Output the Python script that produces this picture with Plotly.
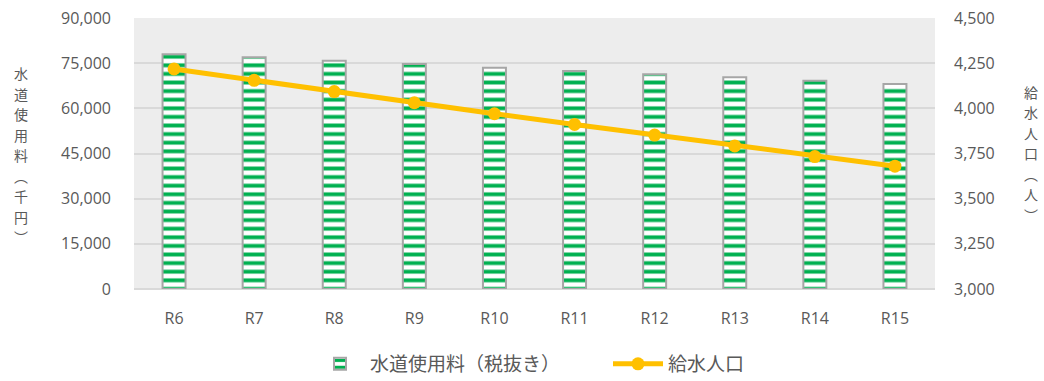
import plotly.graph_objects as go

# 年度別の見込み
years = ["R6", "R7", "R8", "R9", "R10", "R11", "R12", "R13", "R14", "R15"]
water_charges = [78000, 77000, 75800, 74700, 73500, 72400, 71300, 70300, 69200, 68100]  # 千円
served_population = [4218, 4155, 4093, 4031, 3970, 3911, 3852, 3792, 3733, 3680]  # 人

charges_name = "水道使用料（税抜き）"
population_name = "給水人口"
left_title_chars = ["水", "道", "使", "用", "料", "︵", "千", "円", "︶"]
right_title_chars = ["給", "水", "人", "口", "︵", "人", "︶"]

W, H = 1044, 381
L, R, T, B = 134, 109, 18, 92
PW, PH = W - L - R, H - T - B

JP = "Noto Sans CJK JP"
NUM = "Open Sans"
TXT = "#595959"

fig = go.Figure()

fig.add_trace(go.Bar(
    x=years, y=water_charges, name=charges_name, yaxis="y",
    marker=dict(
        color="white",
        line=dict(color="#A6A6A6", width=2),
        pattern=dict(shape="-", fgcolor="#00B050", bgcolor="white",
                     size=8.6, solidity=0.45, fillmode="replace"),
    ),
))

fig.add_trace(go.Scatter(
    x=years, y=served_population, name=population_name, yaxis="y2",
    mode="lines+markers",
    line=dict(color="#FFC000", width=5),
    marker=dict(color="#FFC000", size=13),
))


def px_x(px):
    return (px - L) / PW


def px_y(py):
    return (H - B - py) / PH


def stacked_title(chars, x_px, center_px, pitch=20.5, size=14):
    """縦書きタイトル：1文字ずつ上から積み上げる"""
    top = center_px - pitch * (len(chars) - 1) / 2
    return [
        dict(text=ch, x=px_x(x_px), y=px_y(top + i * pitch),
             xref="paper", yref="paper", showarrow=False,
             xanchor="center", yanchor="middle",
             font=dict(family=JP, size=size, color=TXT))
        for i, ch in enumerate(chars)
    ]


annotations = stacked_title(left_title_chars, 21, 155) + stacked_title(right_title_chars, 1031, 153)

fig.update_layout(
    width=W, height=H,
    margin=dict(l=L, r=R, t=T, b=B, pad=0, autoexpand=False),
    paper_bgcolor="white",
    plot_bgcolor="#EDEDED",
    bargap=0.713,
    showlegend=True,
    legend=dict(orientation="h",
                xref="container", x=310 / W, xanchor="left",
                yref="container", y=(H - 364) / H, yanchor="middle",
                font=dict(family=JP, size=19, color=TXT),
                itemwidth=50, entrywidth=233, traceorder="normal"),
    xaxis=dict(
        type="category", range=[-0.5, len(years) - 0.5],
        showgrid=False, showline=False, ticks="", automargin=False,
        tickfont=dict(family=NUM, size=16, color=TXT), ticklabelstandoff=18,
    ),
    yaxis=dict(
        range=[0, 90000], dtick=15000, tickformat=",", automargin=False,
        showgrid=True, gridcolor="#D9D9D9", gridwidth=1.5,
        zeroline=True, zerolinecolor="#D9D9D9", zerolinewidth=1.5,
        showline=False, ticks="",
        tickfont=dict(family=NUM, size=16, color=TXT), ticklabelstandoff=22,
    ),
    yaxis2=dict(
        range=[3000, 4500], dtick=250, tickformat=",", automargin=False,
        overlaying="y", side="right", showgrid=False, zeroline=False,
        showline=False, ticks="",
        tickfont=dict(family=NUM, size=16, color=TXT), ticklabelstandoff=18,
    ),
    annotations=annotations,
)

fig.write_html("out.html")
